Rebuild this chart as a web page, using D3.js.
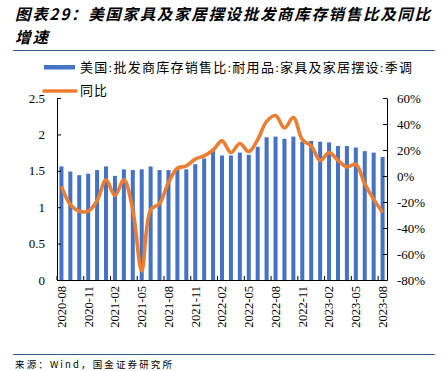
<!DOCTYPE html>
<html>
<head>
<meta charset="utf-8">
<script src="https://cdn.jsdelivr.net/npm/d3@7"></script>
<style>
  body { margin: 0; background: #fff; }
  svg { display: block; }
</style>
</head>
<body>
<svg id="chart" width="445" height="371"></svg>
<script>
// months 2020-08 .. 2023-08
const months = d3.range(37).map(i => {
    const d = new Date(2020, 7 + i, 1)
    return d.getFullYear() + '-' + String(d.getMonth() + 1).padStart(2, '0')
})

// 库存销售比 (left axis)
const ratio = [1.56, 1.49, 1.44, 1.46, 1.51, 1.56, 1.43, 1.52, 1.51, 1.52,
    1.56, 1.51, 1.51, 1.52, 1.52, 1.59, 1.67, 1.79, 1.71, 1.71,
    1.75, 1.72, 1.83, 1.96, 1.97, 1.94, 1.97, 1.90, 1.91, 1.90,
    1.89, 1.84, 1.84, 1.82, 1.77, 1.75, 1.69]

// 同比 % (right axis)
const yoy = [-8, -22, -27, -27, -19, -3, -15, -3, -26, -73,
    -26, -21, -5, 6, 7.7, 13, 15.5, 20, 27, 18,
    25, 18.7, 28, 42, 46.5, 37, 45, 28, 23, 12,
    18, 12, 7, 9, -6, -18, -28]

const leftTicks = [0, 0.5, 1, 1.5, 2, 2.5]
const rightTicks = [-80, -60, -40, -20, 0, 20, 40, 60]
const labelMonths = months.filter((m, i) => i % 3 === 0)

const svg = d3.select('#chart')
const mLeft = 57, mRight = 387, mTop = 98, mBottom = 280
const serif = '"Liberation Serif", "Times New Roman", serif'
const cjk = '"Liberation Serif", "Noto Sans CJK SC", serif'

let x = d3.scaleBand()
    .domain(months)
    .range([mLeft, mRight])
    .paddingInner(0.55)
    .paddingOuter(0.27)

let yL = d3.scaleLinear().domain([0, 2.5]).range([mBottom, mTop])
let yR = d3.scaleLinear().domain([-80, 60]).range([mBottom, mTop])

// title
svg.append('text')
    .attr('x', 15).attr('y', 20)
    .attr('font-family', '"Noto Sans CJK SC", sans-serif')
    .attr('font-size', 15.5).attr('font-weight', 'bold').attr('font-style', 'italic')
    .attr('textLength', 415).attr('lengthAdjust', 'spacing')
    .text('图表29：美国家具及家居摆设批发商库存销售比及同比')
svg.append('text')
    .attr('x', 15).attr('y', 43)
    .attr('font-family', '"Noto Sans CJK SC", sans-serif')
    .attr('font-size', 15.5).attr('font-weight', 'bold').attr('font-style', 'italic')
    .attr('letter-spacing', 2)
    .text('增速')

svg.append('line')
    .attr('x1', 13).attr('x2', 435).attr('y1', 50.5).attr('y2', 50.5)
    .attr('stroke', '#2f5f86').attr('stroke-width', 1.2)
svg.append('line')
    .attr('x1', 13).attr('x2', 435).attr('y1', 354.5).attr('y2', 354.5)
    .attr('stroke', '#2f5f86').attr('stroke-width', 1.2)

// legend
svg.append('rect')
    .attr('x', 44).attr('y', 65).attr('width', 31).attr('height', 4.5)
    .attr('fill', '#4472c4')
svg.append('text')
    .attr('x', 80).attr('y', 72)
    .attr('font-family', cjk).attr('font-size', 13)
    .attr('textLength', 332).attr('lengthAdjust', 'spacing')
    .text('美国:批发商库存销售比:耐用品:家具及家居摆设:季调')
svg.append('line')
    .attr('x1', 44).attr('x2', 76).attr('y1', 91).attr('y2', 91)
    .attr('stroke', '#ed7d31').attr('stroke-width', 3.5).attr('stroke-linecap', 'round')
svg.append('text')
    .attr('x', 80).attr('y', 95)
    .attr('font-family', cjk).attr('font-size', 13)
    .attr('letter-spacing', 1)
    .text('同比')

// bars
svg.append('g')
    .selectAll('rect')
    .data(ratio)
    .join('rect')
    .attr('x', (d, i) => x(months[i]))
    .attr('width', x.bandwidth())
    .attr('y', d => yL(d))
    .attr('height', d => yL(0) - yL(d))
    .attr('fill', '#4472c4')

// line
let line = d3.line()
    .x((d, i) => x(months[i]) + x.bandwidth() / 2)
    .y(d => yR(d))
    .curve(d3.curveCatmullRom.alpha(0.5))

svg.append('path')
    .datum(yoy)
    .attr('d', line)
    .attr('fill', 'none')
    .attr('stroke', '#ed7d31')
    .attr('stroke-width', 3.6)
    .attr('stroke-linejoin', 'round')

// axes
let axL = svg.append('g')
    .attr('transform', 'translate(' + mLeft + ',0)')
    .call(d3.axisLeft(yL).tickValues(leftTicks).tickSizeInner(-4).tickSizeOuter(0).tickPadding(12)
        .tickFormat(d => d))
let axR = svg.append('g')
    .attr('transform', 'translate(' + mRight + ',0)')
    .call(d3.axisRight(yR).tickValues(rightTicks).tickSizeInner(-4).tickSizeOuter(0).tickPadding(10)
        .tickFormat(d => d + '%'))

let xAxis = d3.axisBottom(x)
    .tickValues(labelMonths)
    .tickSize(0)
    .tickPadding(0)
let axB = svg.append('g')
    .attr('transform', 'translate(0,' + mBottom + ')')
    .call(xAxis)
axB.selectAll('text')
    .attr('transform', 'rotate(-90)')
    .attr('text-anchor', 'end')
    .attr('x', -6)
    .attr('y', 0)
    .attr('dy', '0.35em')

// small inward ticks on category boundaries
svg.append('g')
    .selectAll('line')
    .data(labelMonths)
    .join('line')
    .attr('x1', d => x(d) - x.step() * x.paddingInner() / 2)
    .attr('x2', d => x(d) - x.step() * x.paddingInner() / 2)
    .attr('y1', mBottom).attr('y2', mBottom - 4)
    .attr('stroke', '#000')

for (const ax of [axL, axR, axB]) {
    ax.selectAll('text')
        .attr('font-family', serif).attr('font-size', 13).attr('fill', '#000')
    ax.selectAll('path,line').attr('stroke', '#000')
}
axB.selectAll('text').attr('font-size', 12.5)

// source
svg.append('text')
    .attr('x', 15).attr('y', 368)
    .attr('font-family', '"Noto Sans CJK SC", sans-serif').attr('font-size', 9.5)
    .attr('textLength', 157).attr('lengthAdjust', 'spacing')
    .text('来源：Wind，国金证券研究所')
</script>
</body>
</html>
